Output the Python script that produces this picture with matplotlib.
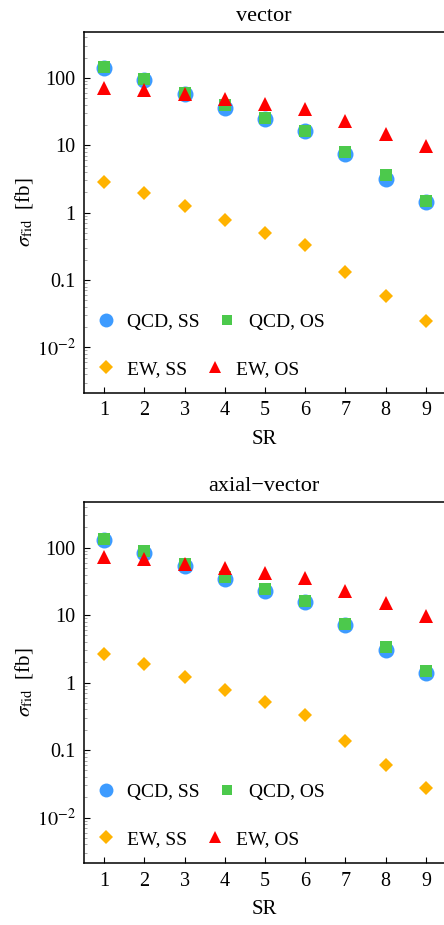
import numpy as np
import matplotlib
matplotlib.use('Agg')
import matplotlib.pyplot as plt
from matplotlib.lines import Line2D
from matplotlib.ticker import FixedLocator, FixedFormatter, LogLocator, NullFormatter

plt.rcParams['font.family'] = ['Liberation Serif', 'DejaVu Serif']
plt.rcParams['mathtext.fontset'] = 'stix'

sr = [1, 2, 3, 4, 5, 6, 7, 8, 9]

# vector
vec_qcd_ss = [141, 93, 57, 36, 24.6, 16.1, 7.4, 3.2, 1.44]
vec_qcd_os = [147, 95, 60, 39, 25, 16.5, 7.9, 3.6, 1.5]
vec_ew_ss = [2.8, 1.98, 1.27, 0.79, 0.49, 0.33, 0.133, 0.057, 0.0246]
vec_ew_os = [70, 65, 58, 48, 41, 34, 23, 14.6, 9.6]

# axial-vector
ax_qcd_ss = [131, 84, 53, 34, 22.6, 15.7, 7.1, 3.0, 1.38]
ax_qcd_os = [136, 88, 57, 36.5, 24, 16.1, 7.3, 3.4, 1.5]
ax_ew_ss = [2.7, 1.92, 1.23, 0.79, 0.51, 0.33, 0.137, 0.060, 0.027]
ax_ew_os = [73, 69, 58, 50, 42, 35, 23, 15, 9.7]

ytick_vals = [0.01, 0.1, 1, 10, 100]
ytick_labels = ['$10^{-2}$', '0.1', '1', '10', '100']

blue = '#3d9bff'
green = '#4cc94c'
orange = '#ffb300'
red = '#ff0000'

fig = plt.figure(figsize=(4.44, 9.25), dpi=100)
W, H = 444, 925


def panel(top_px, bottom_px, title, qss, qos, ess, eos):
    ax = fig.add_axes([84 / W, 1 - bottom_px / H, (W - 84) / W, (bottom_px - top_px) / H])
    ax.plot(sr, qss, 'o', color=blue, ms=11.5, mew=0, ls='none')
    ax.plot(sr, qos, 's', color=green, ms=8, mew=0, ls='none')
    ax.plot(sr, ess, 'D', color=orange, ms=7, mew=0, ls='none')
    ax.plot(sr, eos, '^', color=red, ms=10, mew=0, ls='none')
    ax.set_yscale('log')
    ax.set_xlim(0.5, 9.45)
    ax.set_ylim(0.0021, 480)
    ax.set_xticks(sr)
    ax.set_xticklabels([str(s) for s in sr])
    ax.yaxis.set_major_locator(FixedLocator(ytick_vals))
    ax.yaxis.set_major_formatter(FixedFormatter(ytick_labels))
    ax.yaxis.set_minor_locator(LogLocator(base=10, subs=np.arange(2, 10)))
    ax.yaxis.set_minor_formatter(NullFormatter())
    ax.spines['right'].set_visible(False)
    for s in ['left', 'bottom', 'top']:
        ax.spines[s].set_linewidth(1.1)
    ax.tick_params(which='major', direction='in', length=4, width=0.8, labelsize=14.5, pad=6)
    ax.tick_params(which='minor', direction='in', length=2.2, width=0.6, color='#999999')
    ax.tick_params(axis='x', which='both', top=False)
    ax.set_title(title, fontsize=16, pad=8)
    ax.set_xlabel('SR', fontsize=15, labelpad=7)
    ax.set_ylabel(r'$\sigma_{\rm fid}$  [fb]', fontsize=15, labelpad=1)

    h1 = [Line2D([], [], marker='o', color=blue, ms=10, mew=0, ls='none'),
          Line2D([], [], marker='s', color=green, ms=7, mew=0, ls='none')]
    h2 = [Line2D([], [], marker='D', color=orange, ms=7, mew=0, ls='none'),
          Line2D([], [], marker='^', color=red, ms=9, mew=0, ls='none')]
    leg1 = ax.legend(h1, ['QCD, SS', 'QCD, OS'], ncol=2, frameon=False, fontsize=14,
                     loc='center left', bbox_to_anchor=(-0.02, 0.197), handletextpad=0.5,
                     columnspacing=0.8, handlelength=1.2)
    ax.add_artist(leg1)
    ax.legend(h2, ['EW, SS', 'EW, OS'], ncol=2, frameon=False, fontsize=14,
              loc='center left', bbox_to_anchor=(-0.02, 0.067), handletextpad=0.5,
              columnspacing=0.8, handlelength=1.2)
    return ax


panel(32, 393, 'vector', vec_qcd_ss, vec_qcd_os, vec_ew_ss, vec_ew_os)
panel(501.7, 863.3, 'axial\u2212vector', ax_qcd_ss, ax_qcd_os, ax_ew_ss, ax_ew_os)

fig.savefig('out.png', dpi=100)
